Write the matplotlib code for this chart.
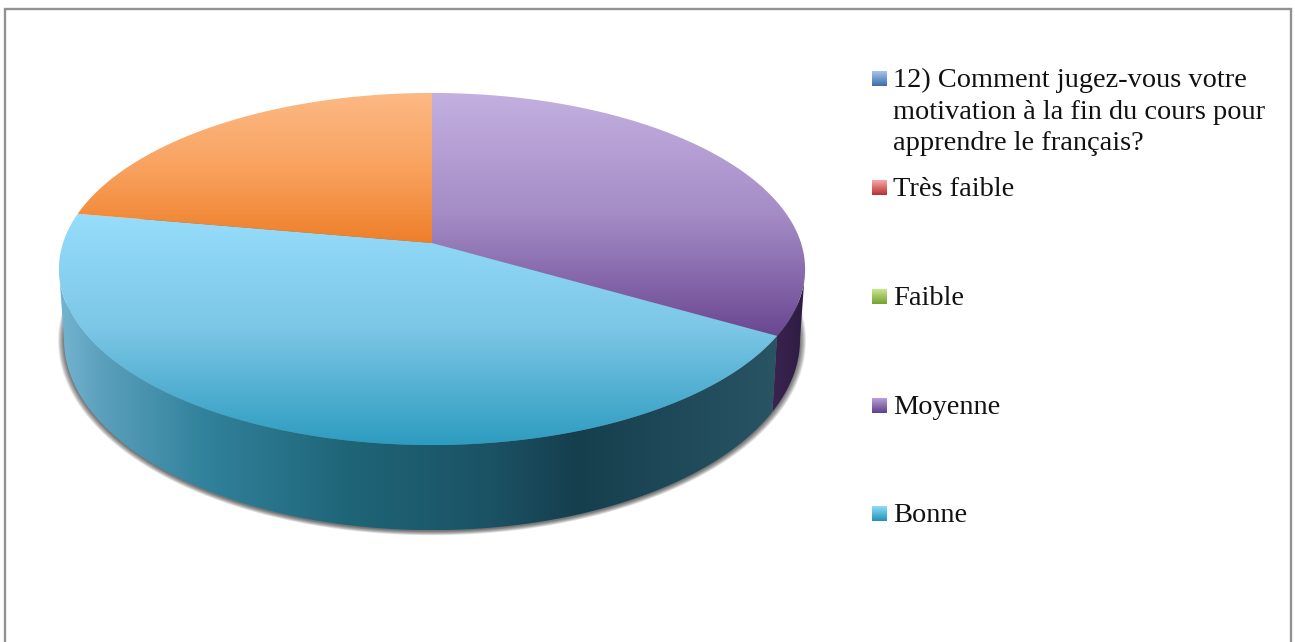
import numpy as np
import matplotlib
matplotlib.use('Agg')
import matplotlib.pyplot as plt
from matplotlib.colors import LinearSegmentedColormap
from matplotlib.patches import Polygon, Rectangle

# Valeurs (3 parts visibles, en nombre de réponses)
pie_names = ['Moyenne', 'Bonne', 'Très bonne']
pie_values = [3, 4, 2]

legend_labels = ['12) Comment jugez-vous votre\nmotivation à la fin du cours pour\napprendre le français?',
                 'Très faible', 'Faible', 'Moyenne', 'Bonne']

# Dégradés (haut -> bas pour le dessus, gauche -> droite pour le côté)
top_colors = {'Moyenne': ['#c4b0e0', '#a48cc6', '#6b4792'],
              'Bonne': ['#97ddfc', '#7cc6e6', '#2d9cc0'],
              'Très bonne': ['#fdb985', '#f9a25f', '#ee7f2a']}
side_colors = {'Moyenne': ['#3a2450', '#2e1c42'],
               'Bonne': [(0.0, '#74b4d0'), (0.06, '#5a9fbc'), (0.2, '#31829c'), (0.4, '#1f6578'),
                         (0.6, '#1b5264'), (0.72, '#163f4e'), (1.0, '#285463')],
               'Très bonne': ['#8a4a14', '#8a4a14']}
legend_colors = [['#a8c4f0', '#3d6ba8'], ['#f8a8a8', '#b83030'], ['#c8e890', '#78a030'],
                 ['#b8a0d8', '#5f3f88'], ['#90def8', '#2090b8']]

# Géométrie en pixels de l'image
CX, K = 432, 0.1477
A_TOP, B_TOP, Y_TOP = 369, 172.2, 243
A_BOT, B_BOT, Y_BOT = 364, 186.8, 311


def rim(theta, a=A_TOP, b=B_TOP, y0=Y_TOP):
    # theta en radians, sens horaire depuis le haut, avec perspective
    x, y = np.sin(theta), np.cos(theta)
    return np.column_stack([CX + a * x / (1 + K * y), y0 - b * y / (1 + K * y)])


def fill_gradient(ax, verts, colors, vertical=True, zorder=2):
    poly = Polygon(verts, closed=True, facecolor='none', edgecolor='none', transform=ax.transData)
    ax.add_patch(poly)
    cmap = LinearSegmentedColormap.from_list('g', colors)
    grad = np.linspace(0, 1, 256)
    xmin, ymin = verts.min(axis=0)
    xmax, ymax = verts.max(axis=0)
    grad = grad.reshape(-1, 1) if vertical else grad.reshape(1, -1)
    im = ax.imshow(grad, cmap=cmap, extent=(xmin, xmax, ymax, ymin), aspect='auto',
                   origin='upper', zorder=zorder, interpolation='bilinear')
    im.set_clip_path(poly)


fig = plt.figure(figsize=(12.95, 6.42), dpi=100)
ax = fig.add_axes([0, 0, 1, 1])

# Cadre du graphique (le bas est coupé)
ax.add_patch(Rectangle((4.5, 9), 1286, 660, facecolor='white', edgecolor='#929292', linewidth=1.7, zorder=0))

# Ombre portée, douce
t_all = np.linspace(0, 2 * np.pi, 361)
for grow in np.linspace(6, 0, 14):
    ax.add_patch(Polygon(rim(t_all, A_BOT + grow, B_BOT + grow * 0.6, Y_BOT + 1), closed=True,
                         facecolor='#000000', alpha=0.05, edgecolor='none', zorder=1))

# Parts du camembert : le côté ne se voit qu'entre les deux extrémités de l'ellipse
t_right = np.arccos(-K)
t_left = 2 * np.pi - t_right
angles = np.cumsum([0] + pie_values) / sum(pie_values) * 2 * np.pi
for name, t0, t1 in zip(pie_names, angles[:-1], angles[1:]):
    t0, t1 = max(t0, t_right), min(t1, t_left)
    if t0 >= t1:
        continue
    t = np.linspace(t0, t1, 200)
    side = np.vstack([rim(t), rim(t[::-1], A_BOT, B_BOT, Y_BOT)])
    fill_gradient(ax, side, side_colors[name], vertical=False, zorder=2)
for name, t0, t1 in zip(pie_names, angles[:-1], angles[1:]):
    t = np.linspace(t0, t1, 200)
    top = np.vstack([[CX, Y_TOP], rim(t)])
    fill_gradient(ax, top, top_colors[name], vertical=True, zorder=3)

# Légende
legend_y = [78.5, 187.5, 296.5, 405.5, 513.5]
for label, y, colors in zip(legend_labels, legend_y, legend_colors):
    box = np.array([[872, y - 7.5], [887, y - 7.5], [887, y + 7.5], [872, y + 7.5]])
    fill_gradient(ax, box, colors, vertical=True, zorder=3)
    ax.text(893, y - 10.5, label, fontsize=20.4, family='Liberation Serif', va='top', ha='left',
            color='#111111', linespacing=1.345, zorder=4)

ax.set_xlim(0, 1295)
ax.set_ylim(642, 0)
ax.axis('off')

fig.savefig('out.png', dpi=100, facecolor='white')
